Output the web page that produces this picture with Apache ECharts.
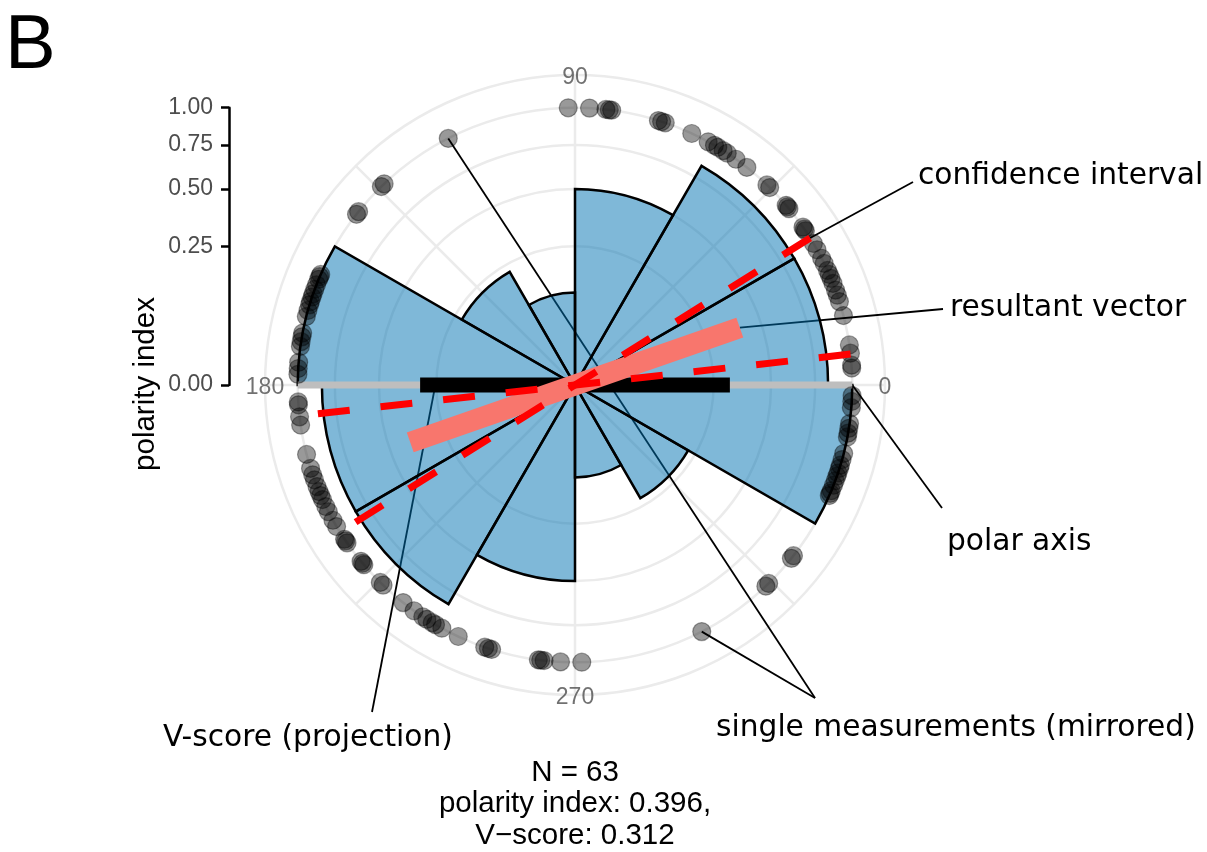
<!DOCTYPE html>
<html>
<head>
<meta charset="utf-8">
<script src="https://cdn.jsdelivr.net/npm/echarts@6/dist/echarts.min.js"></script>
<style>
  html, body { margin: 0; padding: 0; background: #ffffff; }
  #chart { width: 1207px; height: 852px; }
</style>
</head>
<body>
<div id="chart"></div>
<script>
// Single measurement angles (degrees, 0-180); each one is also drawn mirrored at +180
const measurementAngles = [
  3.5, 4.1, 6.6, 8.3, 14.5, 17.5, 18.9, 20, 21.5, 22.6, 23.5, 24.4, 26, 27.2, 29.2,
  30.7, 33.8, 34.2, 34.7, 39.5, 40, 40.4, 45.4, 46.2, 51.7, 54.5, 56.7, 57.7, 59, 59.8,
  61.3, 65.1, 71, 71.8, 72.5, 82.4, 82.9, 83.6, 87.0,
  91.4, 117.2,
  133.5, 134.3, 141.3, 142,
  156.5, 157, 157.6, 158.8, 159.8, 160.8, 161.5, 162.5, 163.2, 164.4, 165.7,
  169.2, 170, 171, 172, 175.3, 176.6, 177.8
];

// 30-degree histogram bins (mirrored counts)
const binLabels = ['0-30', '30-60', '60-90', '90-120', '120-150', '150-180',
                   '180-210', '210-240', '240-270', '270-300', '300-330', '330-360'];
const binCounts = [15, 15, 9, 2, 4, 18, 15, 15, 9, 2, 4, 18];

// Summary statistics
const sampleSize = 63;
const polarityIndex = 0.396;
const vScore = 0.312;
const meanAngle = 19.2;          // axial mean direction
const ciAngles = [6.4, 32.0];    // confidence interval bounds
const polarAxisAngle = 0;

// Radial ticks (polarity index) and angular tick labels
const radiusTickValues = [0, 0.25, 0.5, 0.75, 1];
const radiusGridValues = [0.25, 0.5, 0.75, 1, 1.25];
const angleTickLabels = [0, 90, 180, 270];

// ---------------------------------------------------------------------------
const sq = Math.sqrt;                     // radial axis uses a square-root scale
const radiusMax = sq(1.25);
const CX = 575, CY = 385, OUTER = 310;
const R1 = OUTER / radiusMax;             // pixel radius of polarity index 1

const maxCount = Math.max(...binCounts);
const barData = binCounts.map(c => sq(c / maxCount));

const pointData = [];
measurementAngles.forEach(a => { pointData.push([1, a]); pointData.push([1, a + 180]); });

const gridGrey = '#EBEBEB';
const tickGrey = '#4D4D4D';

const chart = echarts.init(document.getElementById('chart'), null, { renderer: 'canvas' });

function lineSeries(name, data, style, z) {
  return {
    name, type: 'line', coordinateSystem: 'polar', polarIndex: 0,
    data, symbol: 'none', silent: true, animation: false, z,
    lineStyle: Object.assign({ cap: 'butt' }, style)
  };
}

const option = {
  backgroundColor: '#ffffff',
  animation: false,
  polar: [
    { center: [CX, CY], radius: OUTER },
    { center: [CX, CY], radius: OUTER }
  ],
  angleAxis: [
    {
      polarIndex: 0, type: 'value', min: 0, max: 360, interval: 45,
      startAngle: 0, clockwise: false,
      axisLine: { show: false }, axisTick: { show: false }, axisLabel: { show: false },
      splitLine: { show: true, lineStyle: { color: gridGrey, width: 2.5 } }
    },
    {
      polarIndex: 1, type: 'category', data: binLabels,
      startAngle: 0, clockwise: false, boundaryGap: true,
      axisLine: { show: false }, axisTick: { show: false }, axisLabel: { show: false },
      splitLine: { show: false }
    }
  ],
  radiusAxis: [
    {
      polarIndex: 0, type: 'value', min: 0, max: radiusMax,
      axisLine: { show: false },
      axisTick: { show: false, customValues: radiusGridValues.map(sq) },
      axisLabel: { show: false, customValues: radiusGridValues.map(sq) },
      splitLine: { show: true, lineStyle: { color: gridGrey, width: 2.5 } }
    },
    {
      polarIndex: 1, type: 'value', min: 0, max: radiusMax,
      axisLine: { show: false }, axisTick: { show: false }, axisLabel: { show: false },
      splitLine: { show: false }
    }
  ],
  grid: { left: 229, top: CY - R1, width: 10, height: R1 },
  xAxis: { type: 'value', show: false, min: 0, max: 1 },
  yAxis: {
    type: 'value', min: 0, max: 1, position: 'left',
    axisLine: { show: true, onZero: false, lineStyle: { color: '#000', width: 2.5 } },
    axisTick: { show: true, length: 8, customValues: radiusTickValues.map(sq),
                lineStyle: { color: '#000', width: 2.5 } },
    axisLabel: { customValues: radiusTickValues.map(sq), margin: 16,
                 formatter: v => (v * v).toFixed(2),
                 color: tickGrey, fontSize: 23, fontFamily: 'Liberation Sans' },
    splitLine: { show: false }
  },
  series: [
    {
      name: 'histogram', type: 'bar', coordinateSystem: 'polar', polarIndex: 1,
      data: barData, barCategoryGap: '0%', z: 2, silent: true,
      itemStyle: { color: 'rgba(0,114,178,0.5)', borderColor: '#000000', borderWidth: 2.5 }
    },
    lineSeries('polar axis', [[1, polarAxisAngle], [1, polarAxisAngle + 180]],
               { color: '#BEBEBE', width: 7 }, 3),
    {
      name: 'single measurements', type: 'scatter', coordinateSystem: 'polar', polarIndex: 0,
      data: pointData, symbol: 'circle', symbolSize: 18, z: 4, silent: true,
      itemStyle: { color: 'rgba(0,0,0,0.5)', borderColor: 'rgba(0,0,0,0.45)', borderWidth: 1.2 }
    },
    lineSeries('V-score', [[sq(vScore), polarAxisAngle], [sq(vScore), polarAxisAngle + 180]],
               { color: '#000000', width: 15 }, 5),
    lineSeries('resultant vector', [[sq(polarityIndex), meanAngle], [sq(polarityIndex), meanAngle + 180]],
               { color: '#F8766D', width: 21 }, 6),
    lineSeries('ci low', [[1, ciAngles[0]], [1, ciAngles[0] + 180]],
               { color: '#FF0000', width: 7, type: [32, 31] }, 7),
    lineSeries('ci high', [[1, ciAngles[1]], [1, ciAngles[1] + 180]],
               { color: '#FF0000', width: 7, type: [32, 31] }, 7),
    {
      name: 'angle labels', type: 'scatter', coordinateSystem: 'polar', polarIndex: 0,
      data: angleTickLabels.map(a => [radiusMax, a]), symbolSize: 0, z: 10, silent: true,
      label: { show: true, position: 'inside', offset: [0, 3], formatter: p => String(p.value[1]),
               color: tickGrey, fontSize: 23, fontFamily: 'Liberation Sans' }
    }
  ]
};
chart.setOption(option);

// Annotations: leader lines start at the marks they describe
const toPx = (r, a) => chart.convertToPixel({ seriesIndex: 2 }, [r, a]);
const leaderStyle = { stroke: '#000', lineWidth: 1.8 };
const leader = (p, q) => ({ type: 'line', z: 1, silent: true,
  shape: { x1: p[0], y1: p[1], x2: q[0], y2: q[1] }, style: leaderStyle });
const annoFont = '29.7px "DejaVu Sans"';
const note = (txt, x, y) => ({ type: 'text', z: 20, silent: true, x, y,
  style: { text: txt, font: annoFont, fill: '#000',
           textAlign: 'left', textVerticalAlign: 'middle' } });

const singleA = measurementAngles[measurementAngles.indexOf(117.2)];
const measJoin = [815, 698];

chart.setOption({
  graphic: [
    leader(toPx(1, ciAngles[1]), [913, 182]),
    leader(toPx(sq(polarityIndex), meanAngle), [943, 309]),
    leader(toPx(1, polarAxisAngle), [942, 508]),
    leader(toPx(1, singleA), measJoin),
    leader(toPx(1, singleA + 180), measJoin),
    leader([435, 387], [372, 712]),
    note('confidence interval', 918, 176),
    note('resultant vector', 950, 308),
    note('polar axis', 947, 542),
    note('single measurements (mirrored)', 716, 728),
    note('V-score (projection)', 163, 738),
    { type: 'text', z: 20, silent: true, x: 575, y: 757,
      style: { text: 'N = ' + sampleSize + '\npolarity index: ' + polarityIndex.toFixed(3) +
               ',\nV\u2212score: ' + vScore.toFixed(3),
               font: '29.5px "Liberation Sans"', fill: '#000', lineHeight: 31.5,
               textAlign: 'center', textVerticalAlign: 'top' } },
    { type: 'text', z: 20, silent: true, x: 146, y: 384, rotation: Math.PI / 2,
      style: { text: 'polarity index', font: '29.5px "Liberation Sans"', fill: '#000',
               textAlign: 'center', textVerticalAlign: 'middle' } },
    { type: 'text', z: 20, silent: true, x: 5, y: 47,
      style: { text: 'B', font: '76px "Liberation Sans"', fill: '#000',
               textAlign: 'left', textVerticalAlign: 'middle' } }
  ]
});
</script>
</body>
</html>
